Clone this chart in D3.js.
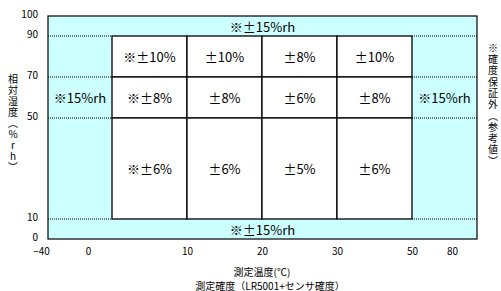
<!DOCTYPE html>
<html>
<head>
<meta charset="utf-8">
<script src="https://cdn.jsdelivr.net/npm/d3@7"></script>
<style>
  body { margin: 0; background: #fff; }
  text { font-family: "Noto Sans CJK JP", "Noto Sans", sans-serif; fill: #000; }
  .vert { writing-mode: vertical-rl; text-orientation: upright; }
</style>
</head>
<body>
<svg id="chart" width="501" height="291"></svg>
<script>
// temperature / humidity break points of the accuracy table
const tempBreaks = [-40, 0, 10, 20, 30, 50, 80];
const humidBreaks = [0, 10, 50, 70, 90, 100];
const xTickLabels = ['−40', '0', '10', '20', '30', '50', '80'];
const yTickLabels = ['0', '10', '50', '70', '90', '100'];

// guaranteed area: 0..50 degC, 10..90 %rh
const innerTemps = [0, 10, 20, 30, 50];
const innerRows = [[70, 90], [50, 70], [10, 50]];
const accuracy70to90 = ['※±10%', '±10%', '±8%', '±10%'];
const accuracy50to70 = ['※±8%', '±8%', '±6%', '±8%'];
const accuracy10to50 = ['※±6%', '±6%', '±5%', '±6%'];
const bandLabel = '※±15%rh';
const sideLabel = '※15%rh';

const xTitle = '測定温度(℃)';
const subTitle = '測定確度（LR5001+センサ確度）';
const yTitle = '相対湿度（%rh）';
const noteTitle = '※確度保証外（参考値）';

const svg = d3.select('#chart');

const x = d3.scaleLinear()
  .domain(tempBreaks)
  .range([48, 112, 187, 262, 337, 412, 477]);

const y = d3.scaleLinear()
  .domain(humidBreaks)
  .range([239, 219, 118, 77, 36, 16]);

const cyan = '#ccffff';
const tickFont = '"Liberation Sans", Arial, sans-serif';

// background: out-of-guarantee zone
svg.append('rect')
  .attr('x', x(-40))
  .attr('y', y(100))
  .attr('width', x(80) - x(-40))
  .attr('height', y(0) - y(100))
  .attr('fill', cyan);

// dotted separators inside the cyan side columns
const sideCols = [[-40, 0], [50, 80]];
const dotted = [];
sideCols.forEach(c => [10, 50, 70, 90].forEach(h => dotted.push({ x0: c[0], x1: c[1], h })));
svg.append('g').selectAll('line')
  .data(dotted)
  .join('line')
  .attr('x1', d => x(d.x0))
  .attr('x2', d => x(d.x1))
  .attr('y1', d => y(d.h))
  .attr('y2', d => y(d.h))
  .attr('stroke', '#000')
  .attr('stroke-width', 1)
  .attr('stroke-dasharray', '1,1');

// white cells
const rowTexts = [accuracy70to90, accuracy50to70, accuracy10to50];
const cells = [];
innerRows.forEach((r, i) => {
  for (let j = 0; j < innerTemps.length - 1; j++) {
    cells.push({ t0: innerTemps[j], t1: innerTemps[j + 1], h0: r[0], h1: r[1], label: rowTexts[i][j] });
  }
});

const cell = svg.append('g').selectAll('g')
  .data(cells)
  .join('g');

cell.append('rect')
  .attr('x', d => x(d.t0))
  .attr('y', d => y(d.h1))
  .attr('width', d => x(d.t1) - x(d.t0))
  .attr('height', d => y(d.h0) - y(d.h1))
  .attr('fill', '#fff')
  .attr('stroke', '#000')
  .attr('stroke-width', 1.3);

cell.append('text')
  .attr('x', d => (x(d.t0) + x(d.t1)) / 2)
  .attr('y', d => (y(d.h0) + y(d.h1)) / 2)
  .attr('text-anchor', 'middle')
  .attr('dominant-baseline', 'central')
  .attr('font-size', 13)
  .text(d => d.label);

// outer frame
svg.append('rect')
  .attr('x', x(-40))
  .attr('y', y(100))
  .attr('width', x(80) - x(-40))
  .attr('height', y(0) - y(100))
  .attr('fill', 'none')
  .attr('stroke', '#000')
  .attr('stroke-width', 1.2);

// band labels (top / bottom) and side labels
const bands = [{ h0: 90, h1: 100 }, { h0: 0, h1: 10 }];
svg.append('g').selectAll('text')
  .data(bands)
  .join('text')
  .attr('x', (x(-40) + x(80)) / 2)
  .attr('y', d => (y(d.h0) + y(d.h1)) / 2)
  .attr('text-anchor', 'middle')
  .attr('dominant-baseline', 'central')
  .attr('font-size', 13)
  .text(bandLabel);

svg.append('g').selectAll('text')
  .data(sideCols)
  .join('text')
  .attr('x', d => (x(d[0]) + x(d[1])) / 2)
  .attr('y', (y(50) + y(70)) / 2)
  .attr('text-anchor', 'middle')
  .attr('dominant-baseline', 'central')
  .attr('font-size', 13)
  .text(sideLabel);

// axes
const xShift = { '−40': -7, '0': -24, '80': -25 };
const xAxis = svg.append('g')
  .attr('transform', `translate(0, ${y(0)})`)
  .call(d3.axisBottom(x)
    .tickValues(tempBreaks)
    .tickFormat((d, i) => xTickLabels[i])
    .tickSize(0)
    .tickPadding(9));
xAxis.select('.domain').remove();
xAxis.selectAll('text')
  .attr('font-size', 10)
  .attr('font-family', tickFont)
  .attr('dx', function () { return xShift[this.textContent] || 0; });

const yAxis = svg.append('g')
  .attr('transform', `translate(${x(-40)}, 0)`)
  .call(d3.axisLeft(y)
    .tickValues(humidBreaks)
    .tickFormat((d, i) => yTickLabels[i])
    .tickSize(0)
    .tickPadding(10));
yAxis.select('.domain').remove();
yAxis.selectAll('text')
  .attr('font-size', 10)
  .attr('font-family', tickFont)
  .attr('dy', '0.1em');

// titles
svg.append('text')
  .attr('x', 262)
  .attr('y', 271)
  .attr('text-anchor', 'middle')
  .attr('dominant-baseline', 'central')
  .attr('font-size', 10)
  .text(xTitle);

svg.append('text')
  .attr('x', 270)
  .attr('y', 285)
  .attr('text-anchor', 'middle')
  .attr('dominant-baseline', 'central')
  .attr('font-size', 10)
  .text(subTitle);

// vertical titles
svg.append('text')
  .attr('class', 'vert')
  .attr('x', 13)
  .attr('y', 74)
  .attr('font-size', 10)
  .attr('letter-spacing', 1)
  .text(yTitle);

svg.append('text')
  .attr('class', 'vert')
  .attr('x', 493)
  .attr('y', 43)
  .attr('font-size', 10)
  .attr('letter-spacing', 1.3)
  .text(noteTitle);
</script>
</body>
</html>
